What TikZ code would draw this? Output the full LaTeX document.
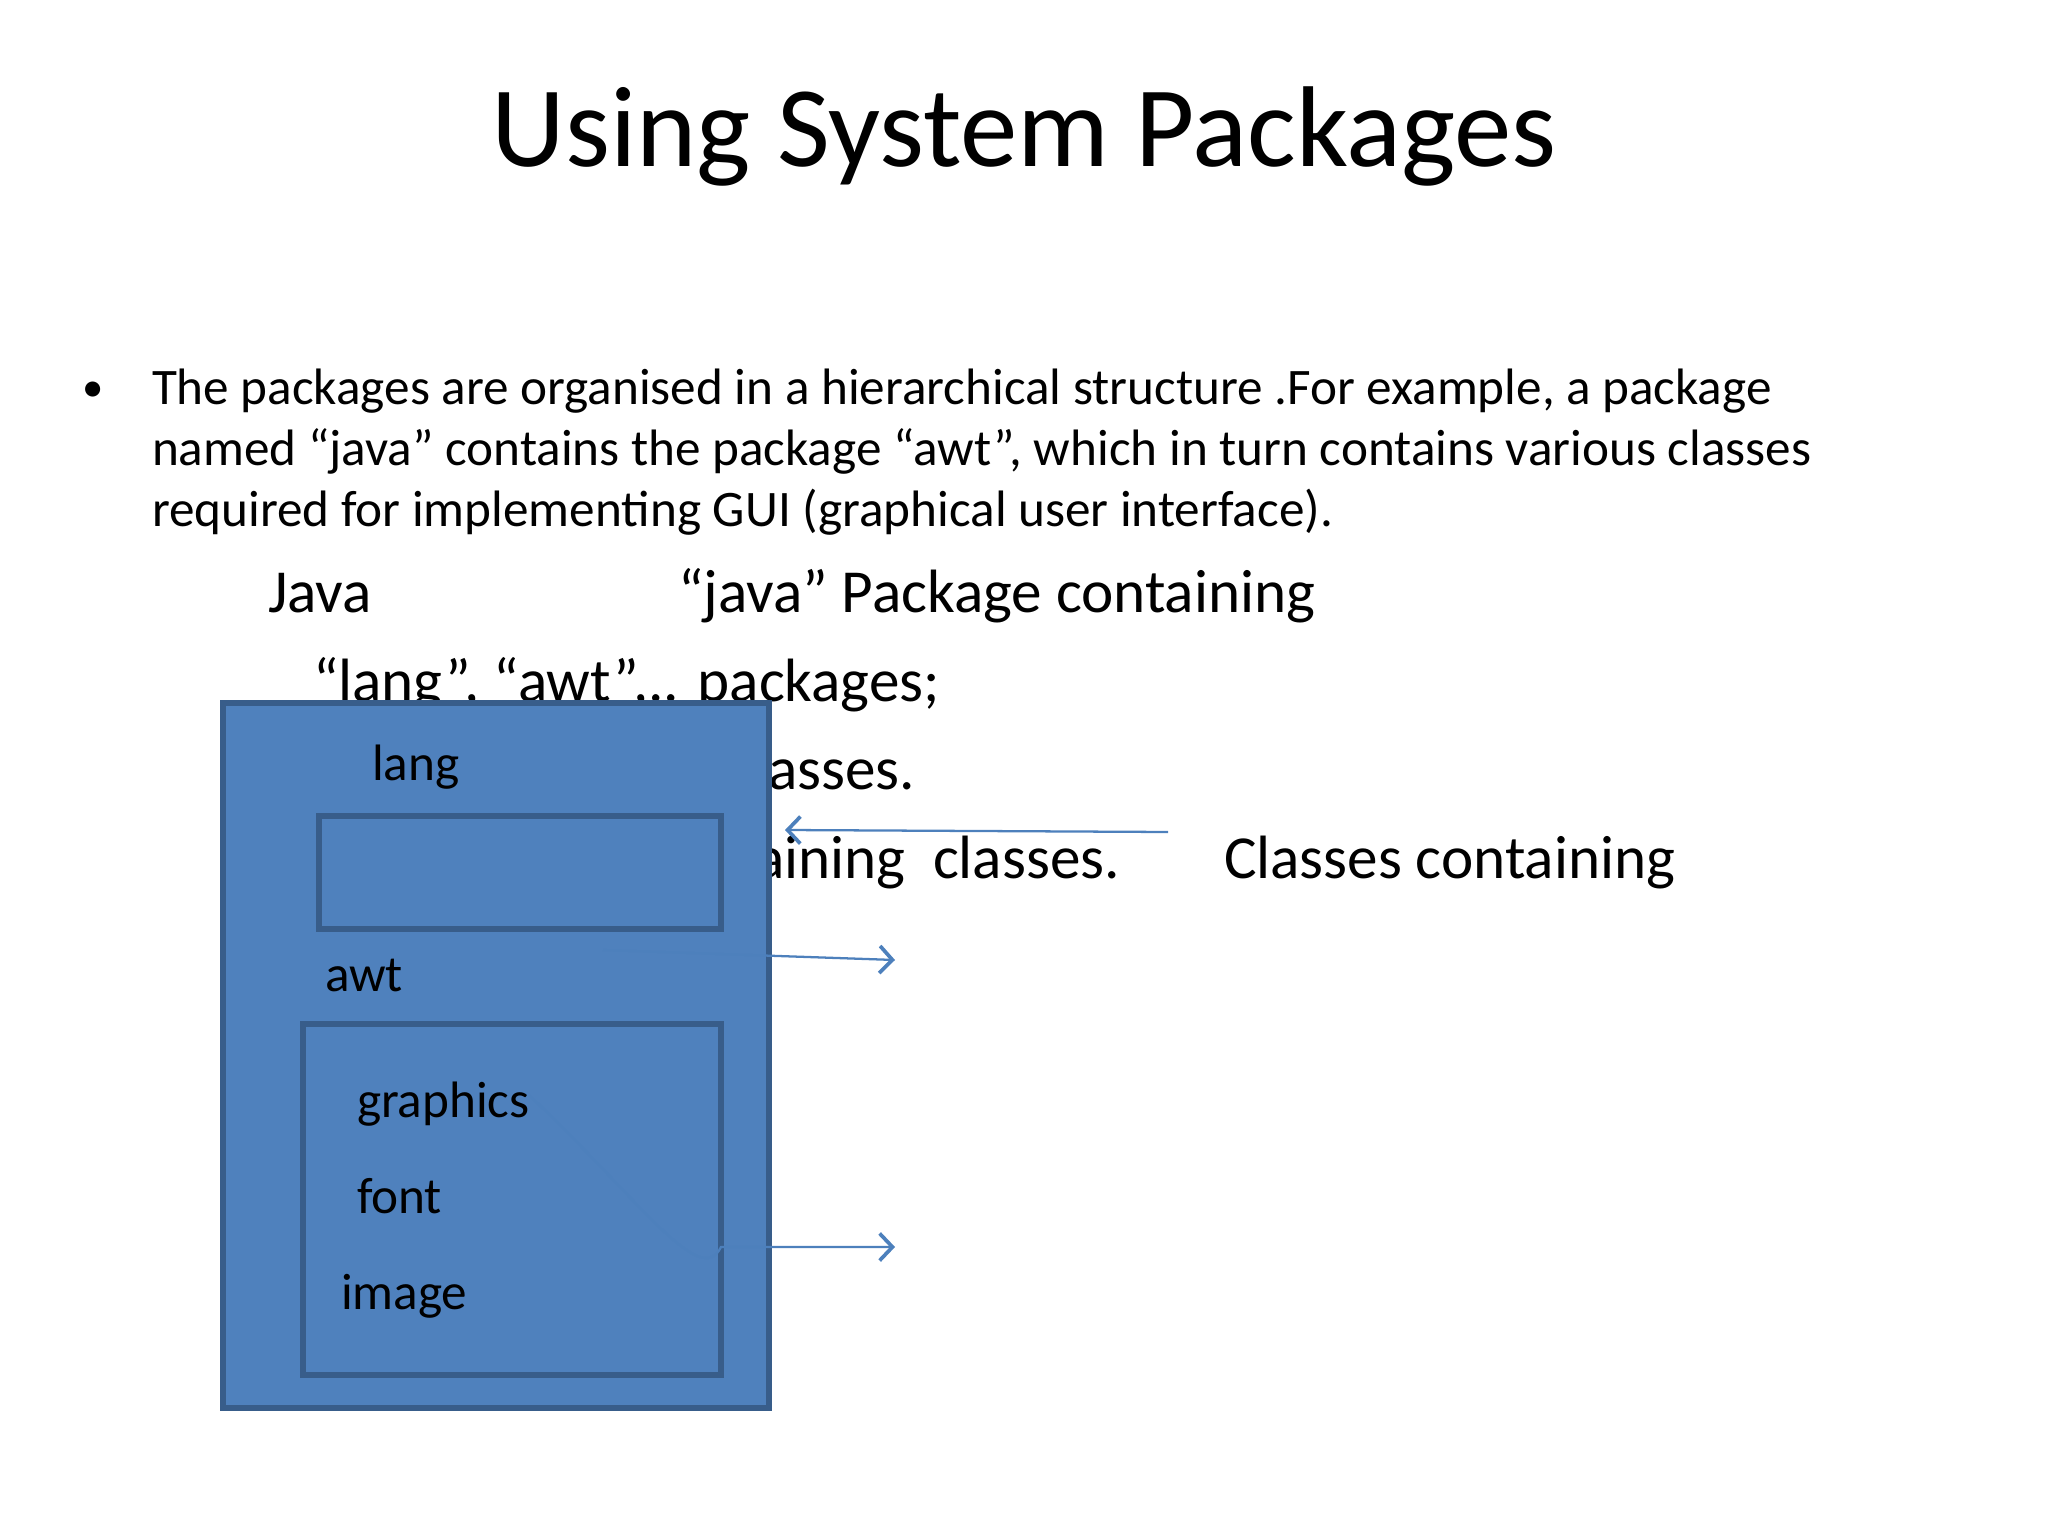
\documentclass[tikz,border=0pt]{standalone}
\usepackage{fontspec}
\setmainfont{Carlito}
\usetikzlibrary{arrows.meta}

\definecolor{pkgfill}{HTML}{4F81BD}
\definecolor{pkgline}{HTML}{385D8A}
\definecolor{linkcol}{HTML}{4D80BC}

\tikzset{
  every node/.style={inner sep=0pt,outer sep=0pt},
  pkgbox/.style={fill=pkgfill,draw=pkgline,line width=2pt},
  bodytext/.style={anchor=base west,font=\fontsize{18}{21.6}\selectfont},
  bigtext/.style={anchor=base west,font=\fontsize{21.5}{25.8}\selectfont},
  link/.style={draw=linkcol,line width=0.8pt,
    -{Straight Barb[length=4.5pt,width=9.5pt,line width=1.3pt]}}
}

\begin{document}
\begin{tikzpicture}[x=0.3515625pt,y=-0.3515625pt]
  \useasboundingbox (0,0) rectangle (2048,1536);

  \node[anchor=base,font=\fontsize{40.4}{48}\selectfont] (title) at (1024,167) {Using System Packages};

  \node[bodytext,font=\fontsize{15}{18}\selectfont] (bullet) at (82,402) {•};
  \node[bodytext] (intro1) at (152,405) {The packages are organised in a hierarchical structure .For example, a package};
  \node[bodytext] (intro2) at (152,466) {named “java” contains the package “awt”, which in turn contains various classes};
  \node[bodytext] (intro3) at (152,527) {required for implementing GUI (graphical user interface).};

  \node[bigtext] (javaword) at (268,613) {Java};
  \node[bigtext] (javapkg) at (678,613) {“java” Package containing};
  \node[bigtext] (subpkgs) at (313,701) {“lang”, “awt”,.. packages;};
  \node[bigtext,anchor=base east] (line3) at (915,789) {asses.};
  \node[bigtext,anchor=base east] (line4) at (1120,878) {aining\ \ classes.};
  \node[bigtext] (clsword) at (1224,878) {Classes containing};

  % package boxes
  \draw[pkgbox] (223,703) rectangle (769,1408);
  \draw[pkgbox] (319,816) rectangle (721,929);
  \draw[pkgbox] (303,1024) rectangle (721,1375);

  \node[bodytext] (lang) at (372,780) {lang};
  \node[bodytext] (awt) at (325,991) {awt};
  \node[bodytext] (graphics) at (357,1117) {graphics};
  \node[bodytext] (font) at (357,1213) {font};
  \node[bodytext] (image) at (341,1309) {image};

  \coordinate (clsstart) at (1168,832);
  \coordinate (clstip) at (785,830);
  \coordinate (awttip) at (895,960);
  \coordinate (gfxtip) at (895,1247);

  \draw[link] (clsstart) -- (clstip);
  \draw[link] (awt.east) ++(200,-25) -- (awttip);
  \draw[link] (graphics.east) ++(0,-8) .. controls (640,1200) and (700,1290) .. (721,1247) -- (gfxtip);
\end{tikzpicture}
\end{document}
